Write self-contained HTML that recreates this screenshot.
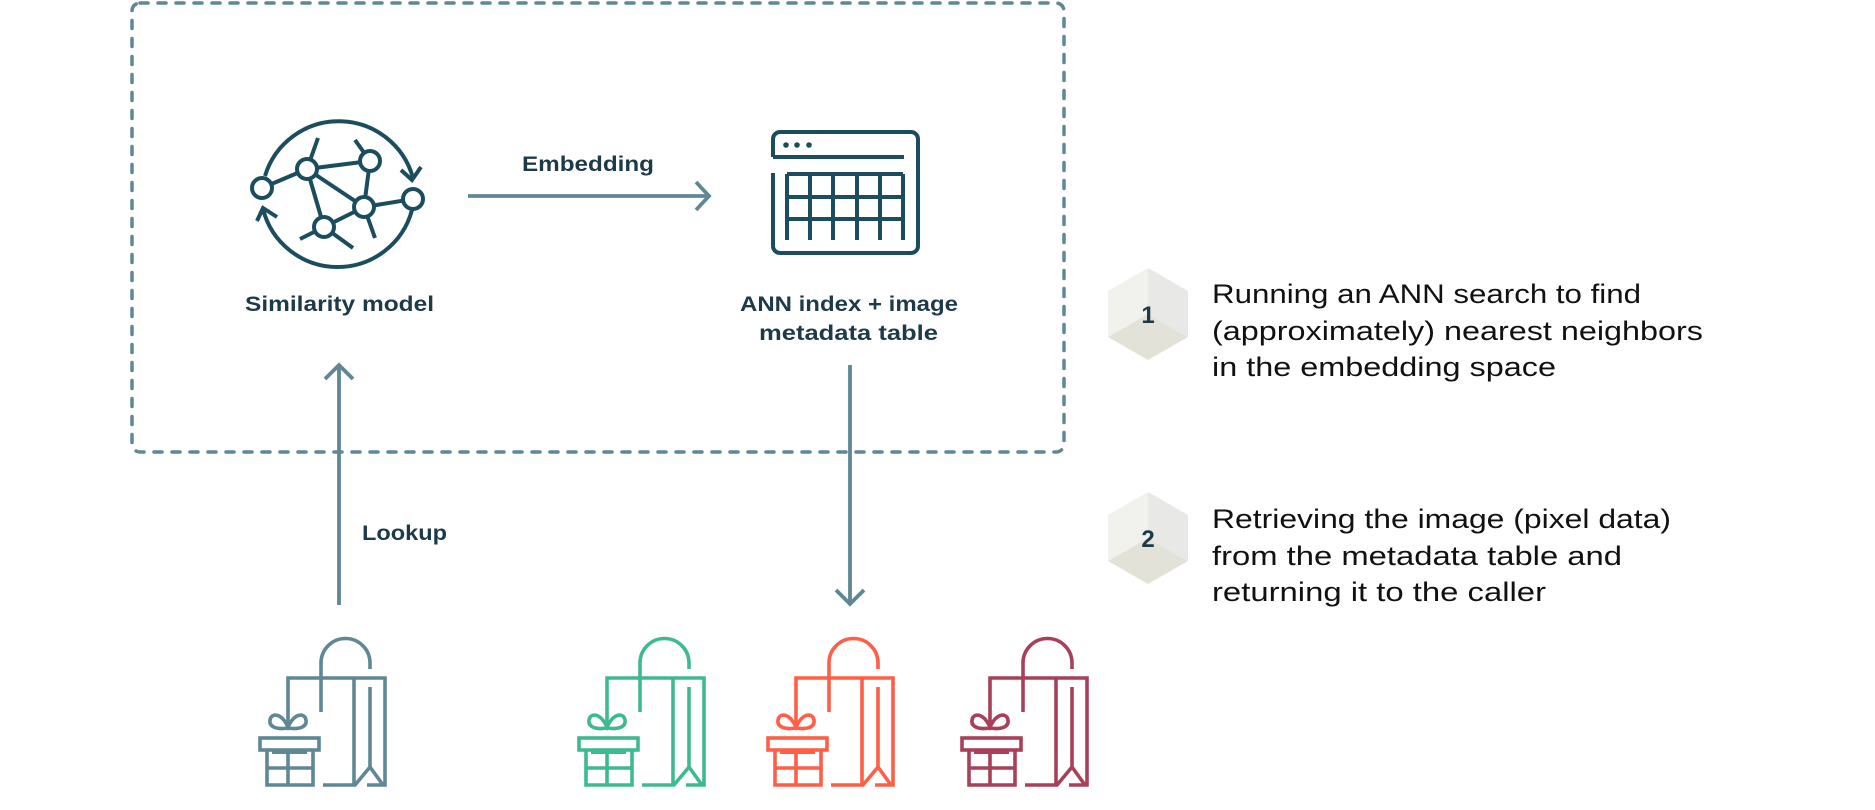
<!DOCTYPE html>
<html><head><meta charset="utf-8"><style>
html,body{margin:0;padding:0;background:#fff;}
svg{display:block;}
text{font-family:"Liberation Sans",sans-serif;}
</style></head><body>
<svg width="1875" height="810" viewBox="0 0 1875 810" xmlns="http://www.w3.org/2000/svg">
<defs>
<g id="bag" fill="none" stroke-width="3.6">
  <path d="M66,82 V33 A24.5,24.5 0 0 1 115,33 V39"/>
  <path d="M33,93 V48 H130 V155 H112"/>
  <path d="M68,155 H100 L115,137 L128,155"/>
  <path d="M99,48 V155"/>
  <path d="M115,57 V137"/>
  <path d="M33,98 C20,100 14,96 15,90 C16,83 26,82 33,97 C40,82 50,83 51,90 C52,96 46,100 33,98 Z"/>
  <rect x="5" y="108" width="59" height="12"/>
  <path d="M12,120 V155 H58 V120"/>
  <path d="M17,122 H52" stroke-width="4"/>
  <path d="M33,122 V155 M12,138 H58"/>
</g>
</defs>

<rect x="132" y="3" width="932" height="449" rx="8" fill="none" stroke="#5f8794" stroke-width="3.5" stroke-dasharray="8 10" stroke-linecap="round"/>

<g fill="none" stroke="#1c4d5e" stroke-width="4">
  <path d="M265,176 A77,77 0 0 1 413,178"/>
  <path d="M401,170 L412,180 L421,167"/>
  <path d="M412,210 A77,77 0 0 1 263,209"/>
  <path d="M257,221 L263,208 L277,217"/>
  <path d="M262,188 L307,169 L370,161 M307,169 L364,207 L413,199 M307,169 L324,227 L364,207 L370,161"/>
  <path d="M307,169 L318,138 M370,161 L355,140 M324,227 L300,239 M324,227 L353,248 M364,207 L375,238"/>
  <g fill="#fff">
    <circle cx="262" cy="188" r="10"/>
    <circle cx="307" cy="169" r="10"/>
    <circle cx="370" cy="161" r="10"/>
    <circle cx="413" cy="199" r="10"/>
    <circle cx="364" cy="207" r="10"/>
    <circle cx="324" cy="227" r="10"/>
  </g>
</g>

<g fill="none" stroke="#1c4d5e" stroke-width="4">
  <path d="M773,157 V139 A7,7 0 0 1 780,132 H911 A7,7 0 0 1 918,139 V246 A7,7 0 0 1 911,253 H780 A7,7 0 0 1 773,246 V173"/>
  <path d="M773,157 H904"/>
  <path d="M787,174 H903 M787,197 H903 M787,219 H903"/>
  <path d="M787,174 V240 M810,174 V240 M833,174 V240 M857,174 V240 M880,174 V240 M903,174 V240"/>
</g>
<g fill="#1c4d5e"><circle cx="786" cy="145" r="2.8"/><circle cx="797" cy="145" r="2.8"/><circle cx="809" cy="145" r="2.8"/></g>

<g fill="none" stroke="#5f8794" stroke-width="3.8">
  <path d="M468,196 H708"/><path d="M696,182 L709,196 L696,210"/>
  <path d="M339,605 V365"/><path d="M325,379 L339,365 L353,379"/>
  <path d="M850,365 V604"/><path d="M836,590 L850,604 L864,590"/>
</g>

<g fill="#1d3a48" font-weight="bold" font-size="21">
  <text x="245" y="311" textLength="189" lengthAdjust="spacingAndGlyphs">Similarity model</text>
  <text x="522" y="171" textLength="132" lengthAdjust="spacingAndGlyphs">Embedding</text>
  <text x="740" y="311" textLength="218" lengthAdjust="spacingAndGlyphs">ANN index + image</text>
  <text x="759" y="340" textLength="179" lengthAdjust="spacingAndGlyphs">metadata table</text>
  <text x="362" y="540" textLength="85" lengthAdjust="spacingAndGlyphs">Lookup</text>
</g>

<use href="#bag" x="255" y="630" stroke="#5f8794"/>
<use href="#bag" x="574" y="630" stroke="#3fba8f"/>
<use href="#bag" x="763" y="630" stroke="#ff5f46"/>
<use href="#bag" x="957" y="630" stroke="#a8405a"/>

<g>
  <polygon points="1148,268 1108,291 1108,337 1148,314" fill="#f1f1ee"/>
  <polygon points="1148,268 1188,291 1188,337 1148,314" fill="#e8e8e6"/>
  <polygon points="1148,314 1108,337 1148,360 1188,337" fill="#e3e2d9"/>
  <text x="1148" y="323" text-anchor="middle" font-size="24" font-weight="bold" fill="#1d3a48">1</text>
</g>
<g>
  <polygon points="1148,492 1108,515 1108,561 1148,538" fill="#f1f1ee"/>
  <polygon points="1148,492 1188,515 1188,561 1148,538" fill="#e8e8e6"/>
  <polygon points="1148,538 1108,561 1148,584 1188,561" fill="#e3e2d9"/>
  <text x="1148" y="547" text-anchor="middle" font-size="24" font-weight="bold" fill="#1d3a48">2</text>
</g>

<g fill="#111" font-size="27">
  <text x="1212" y="303" textLength="429" lengthAdjust="spacingAndGlyphs">Running an ANN search to find</text>
  <text x="1212" y="340" textLength="491" lengthAdjust="spacingAndGlyphs">(approximately) nearest neighbors</text>
  <text x="1212" y="376" textLength="344" lengthAdjust="spacingAndGlyphs">in the embedding space</text>
  <text x="1212" y="528" textLength="459" lengthAdjust="spacingAndGlyphs">Retrieving the image (pixel data)</text>
  <text x="1212" y="565" textLength="410" lengthAdjust="spacingAndGlyphs">from the metadata table and</text>
  <text x="1212" y="601" textLength="334" lengthAdjust="spacingAndGlyphs">returning it to the caller</text>
</g>
</svg>
</body></html>
